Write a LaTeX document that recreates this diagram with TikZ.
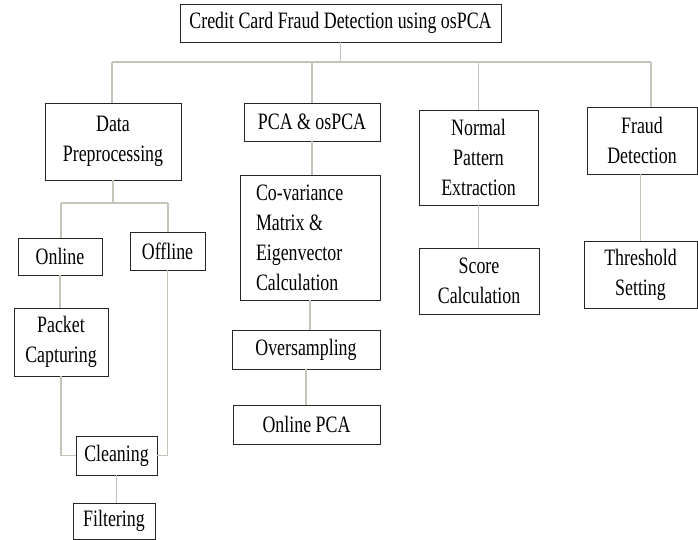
\documentclass[tikz,border=0pt]{standalone}
\usepackage{fontspec}
\setmainfont{Liberation Serif}[FakeStretch=0.76]
\definecolor{linkgray}{RGB}{198,196,184}
\begin{document}
\begin{tikzpicture}[x=1pt,y=-1pt]
	\tikzset{box/.style={draw=black!85, line width=0.8pt, align=center, inner sep=2pt,
			font=\fontsize{23.5}{30}\selectfont},
		link/.style={draw=linkgray, line width=1.3pt}}

	\useasboundingbox (0,0) rectangle (698,540);

	\node[box, minimum width=321, minimum height=38] (title) at (340.5,23) {Credit Card Fraud Detection using osPCA};

	\node[box, minimum width=136, minimum height=77] (prep) at (113,141.5) {Data\\Preprocessing};
	\node[box, minimum width=136, minimum height=38] (pca) at (312,122) {PCA \& osPCA};
	\node[box, minimum width=119, minimum height=95] (normal) at (478.5,157.5) {Normal\\Pattern\\Extraction};
	\node[box, minimum width=110, minimum height=67] (fraud) at (642,140.5) {Fraud\\Detection};

	\node[box, minimum width=84, minimum height=37] (online) at (60,256.5) {Online};
	\node[box, minimum width=75, minimum height=38] (offline) at (167.5,251) {Offline};
	\node[box, minimum width=94, minimum height=68] (packet) at (61,342) {Packet\\Capturing};
	\node[box, minimum width=81, minimum height=39] (cleaning) at (116.5,455.5) {Cleaning};
	\node[box, minimum width=82, minimum height=36] (filtering) at (114,521) {Filtering};

	\node[box, minimum width=140, minimum height=125, text width=108, align=flush left] (cov) at (310,237.5) {Co-variance\\Matrix \&\\Eigenvector\\Calculation};
	\node[box, minimum width=148, minimum height=39] (overs) at (306,349.5) {Oversampling};
	\node[box, minimum width=147, minimum height=39] (onpca) at (306.5,424.5) {Online PCA};

	\node[box, minimum width=120, minimum height=66] (score) at (479,281) {Score\\Calculation};
	\node[box, minimum width=113, minimum height=67] (thresh) at (640.5,274.5) {Threshold\\Setting};

	% main bus
	\coordinate (busL) at (112,62);
	\coordinate (busR) at (651,62);
	\draw[link] (title.south) -- (title.south |- busL);
	\draw[link] (busL) -- (busR);
	\draw[link] (busL) -- (busL |- prep.north);
	\draw[link] (pca.north) -- (pca.north |- busL);
	\draw[link] (normal.north) -- (normal.north |- busL);
	\draw[link] (busR) -- (busR |- fraud.north);

	% preprocessing branch
	\coordinate (splitL) at (61,203);
	\coordinate (splitR) at (168,203);
	\draw[link] (prep.south) -- (prep.south |- splitL);
	\draw[link] (splitL) -- (splitR);
	\draw[link] (splitL) -- (splitL |- online.north);
	\draw[link] (splitR) -- (splitR |- offline.north);
	\draw[link] (online.south) -- (online.south |- packet.north);
	\draw[link] (packet.south) |- (cleaning.west);
	\draw[link] (offline.south) |- (cleaning.east);
	\draw[link] (cleaning.south) -- (cleaning.south |- filtering.north);

	% pca branch
	\draw[link] (pca.south) -- (pca.south |- cov.north);
	\draw[link] (cov.south) -- (cov.south |- overs.north);
	\draw[link] (overs.south) -- (overs.south |- onpca.north);

	\draw[link] (normal.south) -- (normal.south |- score.north);
	\draw[link] (thresh.north) -- (thresh.north |- fraud.south);

\end{tikzpicture}
\end{document}
